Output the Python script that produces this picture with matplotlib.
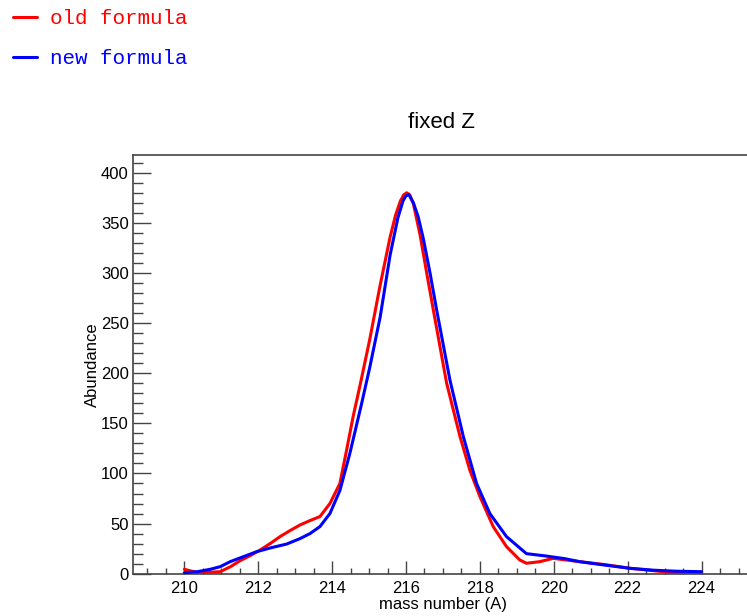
import matplotlib
matplotlib.use('Agg')
import matplotlib.pyplot as plt
from matplotlib.ticker import MultipleLocator

# DATA
a_old = [210.0, 210.2, 210.42, 210.7, 210.97, 211.25, 211.51, 211.78, 212.05, 212.32,
         212.59, 212.86, 213.13, 213.4, 213.67, 213.94, 214.21, 214.39, 214.57, 214.75,
         215.02, 215.29, 215.57, 215.72, 215.85, 215.94, 216.02, 216.1, 216.2, 216.38,
         216.56, 216.74, 217.1, 217.46, 217.73, 218.0, 218.36, 218.72, 219.08, 219.26,
         219.62, 219.98, 220.7, 221.4, 222.06, 222.7, 223.2, 223.6, 224.0]
v_old = [4.4, 2.5, 1.0, 1.5, 2.0, 7.0, 13.0, 18.0, 23.6, 30.0,
         37.0, 43.0, 48.6, 53.0, 57.0, 70.0, 90.0, 123.0, 157.0, 187.0,
         234.0, 286.0, 336.0, 358.0, 372.0, 378.0, 380.0, 378.0, 369.0, 338.0,
         300.0, 263.0, 190.0, 137.0, 103.0, 77.0, 47.0, 27.0, 13.7, 10.4,
         12.0, 15.3, 12.0, 9.0, 5.4, 3.0, 1.0, 0.5, 0.3]

a_new = [210.0, 210.35, 210.7, 210.97, 211.24, 211.6, 211.96, 212.36, 212.77, 213.13,
         213.4, 213.67, 213.94, 214.21, 214.48, 214.8, 215.02, 215.3, 215.57, 215.78,
         215.92, 216.0, 216.08, 216.2, 216.33, 216.47, 216.65, 216.83, 217.19, 217.55,
         217.91, 218.27, 218.72, 219.26, 219.8, 220.3, 220.7, 221.4, 222.06, 222.7,
         223.3, 224.0]
v_new = [1.0, 2.0, 4.4, 7.0, 12.0, 17.0, 22.0, 26.0, 29.6, 35.0,
         40.0, 47.0, 60.0, 83.0, 120.0, 170.0, 206.0, 256.0, 318.0, 355.0,
         372.0, 377.0, 378.0, 370.0, 356.0, 334.0, 300.0, 263.0, 193.0, 137.0,
         90.0, 60.0, 37.0, 20.0, 17.6, 15.0, 12.0, 8.5, 5.4, 3.5,
         2.5, 2.0]

x_ticks_major = 2
x_ticks_minor = 0.5
y_ticks_major = 50
y_ticks_minor = 10

W, H = 747, 616
fig = plt.figure(figsize=(W / 100, H / 100), dpi=100)
ax = fig.add_axes([133 / W, 1 - 573.7 / H, 1 - 133 / W, (573.7 - 155) / H])

l_old, = ax.plot(a_old, v_old, color='#ff0000', lw=2.2, solid_joinstyle='round',
                 solid_capstyle='round', label='old formula', zorder=3)
l_new, = ax.plot(a_new, v_new, color='#0000ff', lw=2.2, solid_joinstyle='round',
                 solid_capstyle='round', label='new formula', zorder=4)

ax.set_xlim(208.61, 225.23)
ax.set_ylim(0, 417.7)

ax.xaxis.set_major_locator(MultipleLocator(x_ticks_major))
ax.xaxis.set_minor_locator(MultipleLocator(x_ticks_minor))
ax.yaxis.set_major_locator(MultipleLocator(y_ticks_major))
ax.yaxis.set_minor_locator(MultipleLocator(y_ticks_minor))

tick_col = '#444444'
for side in ['left', 'top', 'bottom']:
    ax.spines[side].set_color(tick_col)
    ax.spines[side].set_linewidth(1.2)
ax.spines['right'].set_visible(False)

font = 'Liberation Sans'
ax.tick_params(axis='both', which='both', direction='in', color=tick_col,
               width=1.0, labelsize=12, labelcolor='black')
ax.tick_params(axis='y', which='major', length=13, pad=3)
ax.tick_params(axis='y', which='minor', length=7)
ax.tick_params(axis='x', which='major', length=9.4, pad=5)
ax.tick_params(axis='x', which='minor', length=4.2)
for lab in ax.get_xticklabels() + ax.get_yticklabels():
    lab.set_fontfamily(font)

ax.set_xlabel('mass number (A)', fontsize=12, family=font)
ax.xaxis.set_label_coords((443 - 133) / (W - 133), -(597.5 - 573.7) / (573.7 - 155))
ax.set_ylabel('Abundance', fontsize=12, family=font)
ax.yaxis.set_label_coords(-(133 - 100) / (W - 133), 0.5)

fig.text(442 / W, 1 - 122 / H, 'fixed Z', fontsize=16, family=font,
         ha='center', va='center')

fig.legend(handles=[l_old, l_new], loc='upper left',
           bbox_to_anchor=(8 / W, 1 - 4 / H),
           frameon=False, prop={'family': 'Liberation Mono', 'size': 15},
           labelcolor='linecolor', handlelength=1.16, handletextpad=0.62,
           labelspacing=1.0, borderaxespad=0.0, borderpad=0.25)

fig.savefig('out.png', dpi=100)
